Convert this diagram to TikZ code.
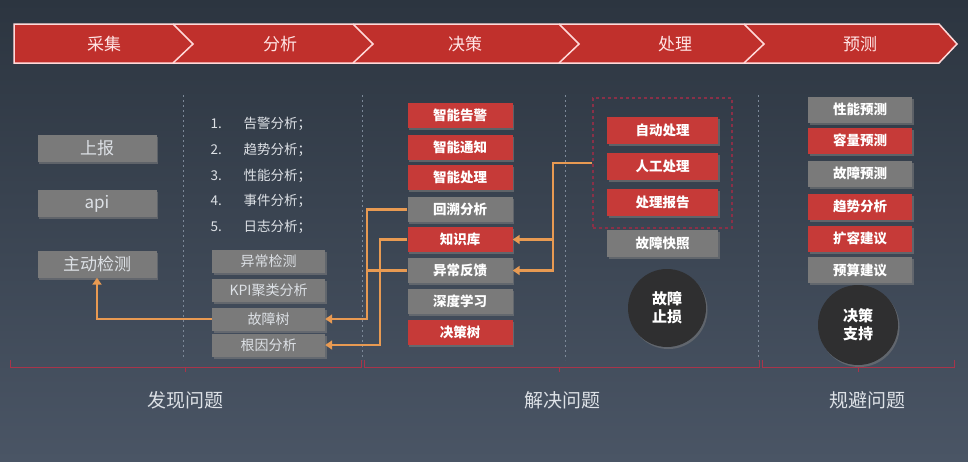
\documentclass[tikz,border=0pt]{standalone}
\usepackage{fontspec}
\setmainfont{Noto Sans CJK SC}
\usetikzlibrary{shadows,arrows.meta}

\definecolor{bgtop}{HTML}{2C3540}
\definecolor{bgbot}{HTML}{4A5565}
\definecolor{bannerred}{HTML}{C0302C}
\definecolor{boxred}{HTML}{C63A38}
\definecolor{boxgrey}{HTML}{7A7A7A}
\definecolor{floworange}{HTML}{E89A52}
\definecolor{seplight}{HTML}{7C8898}
\definecolor{bracketred}{HTML}{A8344A}
\definecolor{dashred}{HTML}{8A3048}
\definecolor{textlight}{HTML}{DDE1E6}
\definecolor{circdark}{HTML}{2F2F30}

\begin{document}
\begin{tikzpicture}[x=1pt,y=-1pt,
  box/.style={text=white, inner sep=0pt, drop shadow={shadow xshift=1.5pt, shadow yshift=-2pt, opacity=0.55}},
  redbox/.style={box, fill=boxred, minimum width=105pt, minimum height=25pt, font=\bfseries\fontsize{13.5}{15}\selectfont},
  greybox/.style={box, fill=boxgrey, minimum width=105pt, minimum height=25pt, font=\bfseries\fontsize{13.5}{15}\selectfont},
  srcbox/.style={box, fill=boxgrey, minimum width=119pt, minimum height=27pt, text=textlight, font=\fontsize{17}{19}\selectfont},
  anabox/.style={box, fill=boxgrey, minimum width=113pt, minimum height=23pt, text=textlight, font=\fontsize{14}{16}\selectfont},
  goal/.style={circle, fill=circdark, text=white, minimum size=78pt, inner sep=0pt, align=center,
    font=\bfseries\fontsize{15}{18}\selectfont, drop shadow={shadow xshift=1.5pt, shadow yshift=-2pt, opacity=0.5}},
  flow/.style={draw=floworange, line width=2.8pt},
  tip/.style={-{Triangle[length=7pt,width=9pt]}},
  sepline/.style={draw=seplight, line width=0.8pt, dash pattern=on 2pt off 3pt},
  bracket/.style={draw=bracketred, line width=0.9pt},
  stage/.style={text=white!90!red, font=\fontsize{17}{19}\selectfont},
  phase/.style={text=textlight, font=\fontsize{19}{21}\selectfont},
  item/.style={text=textlight, anchor=west, font=\fontsize{13.5}{15}\selectfont}]

  % background
  \fill[top color=bgtop, bottom color=bgbot] (0,0) rectangle (968,461);

  % banner
  \draw[fill=bannerred, draw=white!85!red, line width=1.5pt]
    (14,24) -- (939,24) -- (957,44) -- (939,63) -- (14,63) -- cycle;
  \foreach \x in {173,353,559,744}
    \draw[draw=white!85!red, line width=1.5pt] (\x,24) -- (\x+20,44) -- (\x,63);
  \node[stage] (s1) at (104,44) {采集};
  \node[stage] (s2) at (280,44) {分析};
  \node[stage] (s3) at (465,44) {决策};
  \node[stage] (s4) at (675,44) {处理};
  \node[stage] (s5) at (860,44) {预测};

  % separators
  \foreach \x in {183,362,565,758}
    \draw[sepline] (\x,95) -- (\x,360);

  % collect
  \node[srcbox] (sb) at (97,148.5) {上报};
  \node[srcbox] (api) at (97,203.5) {api};
  \node[srcbox] (zdjc) at (97,264) {主动检测};

  % analyse
  \foreach \i/\t [count=\k] in {124/告警分析；,150/趋势分析；,176/性能分析；,201/事件分析；,227/日志分析；} {
    \node[item] (n\k) at (207,\i) {\k.};
    \node[item] (a\k) at (240,\i) {\t};
  }
  \node[anabox] (ycjc) at (268.5,261.5) {异常检测};
  \node[anabox] (kpi) at (268.5,290) {KPI聚类分析};
  \node[anabox] (gzs) at (268.5,319) {故障树};
  \node[anabox] (jyfx) at (268.5,345) {根因分析};

  % decide
  \node[redbox] (zngj) at (460,115.5) {智能告警};
  \node[redbox] (zntz) at (460,147.5) {智能通知};
  \node[redbox] (zncl) at (460,177.5) {智能处理};
  \node[greybox] (hsfx) at (460,209.5) {回溯分析};
  \node[redbox] (zsk) at (460,239.5) {知识库};
  \node[greybox] (ycfk) at (460,270.5) {异常反馈};
  \node[greybox] (sdxx) at (460,301) {深度学习};
  \node[redbox] (jcs) at (460,332.5) {决策树};

  % handle
  \node[draw=dashred, dashed, line width=1.2pt, minimum width=139pt, minimum height=130pt] (clk) at (662.5,163) {};
  \node[redbox, minimum width=111pt, minimum height=27pt] (zdcl) at (662.5,130) {自动处理};
  \node[redbox, minimum width=111pt, minimum height=27pt] (rgcl) at (662.5,166) {人工处理};
  \node[redbox, minimum width=111pt, minimum height=27pt] (clbg) at (662.5,202.5) {处理报告};
  \node[greybox, minimum width=111pt, minimum height=27pt] (gzkz) at (662.5,243.5) {故障快照};
  \node[goal] (gzzs) at (667,308) {故障\\止损};

  % predict
  \node[greybox, minimum width=104pt, minimum height=26pt] (xnyc) at (860,109.5) {性能预测};
  \node[redbox, minimum width=104pt, minimum height=26pt] (rlyc) at (860,140.5) {容量预测};
  \node[greybox, minimum width=104pt, minimum height=26pt] (gzyc) at (860,173.5) {故障预测};
  \node[redbox, minimum width=104pt, minimum height=26pt] (qsfx) at (860,206.5) {趋势分析};
  \node[redbox, minimum width=104pt, minimum height=26pt] (krjy) at (860,238.5) {扩容建议};
  \node[greybox, minimum width=104pt, minimum height=26pt] (ysjy) at (860,270) {预算建议};
  \node[goal, minimum size=80pt] (jczc) at (858,325) {决策\\支持};

  % connectors
  \draw[flow, tip] (gzs.west) -| (zdjc.south);
  \coordinate (j1) at (367,209.5);
  \coordinate (j2) at (380,239.5);
  \coordinate (j3) at (553,163);
  \coordinate (j4) at (553,239.5);
  \draw[flow, tip] (hsfx.west) -- (j1) |- (gzs.east);
  \draw[flow] (ycfk.west) -- (j1 |- ycfk.west);
  \draw[flow, tip] (zsk.west) -- (j2) |- (jyfx.east);
  \draw[flow, tip] (clk.west) -- (j3) |- (ycfk.east);
  \draw[flow, tip] (j4) -- (zsk.east);

  % bottom brackets
  \draw[bracket] (10,360) -- (10,367) -- (361,367) -- (361,360);
  \draw[bracket] (185,367) -- (185,372);
  \draw[bracket] (364,360) -- (364,367) -- (759,367) -- (759,360);
  \draw[bracket] (559,367) -- (559,372);
  \draw[bracket] (762,360) -- (762,367) -- (954,367) -- (954,360);
  \draw[bracket] (858,367) -- (858,372);
  \node[phase] (p1) at (185,400) {发现问题};
  \node[phase] (p2) at (562,400) {解决问题};
  \node[phase] (p3) at (867,400) {规避问题};
\end{tikzpicture}
\end{document}
